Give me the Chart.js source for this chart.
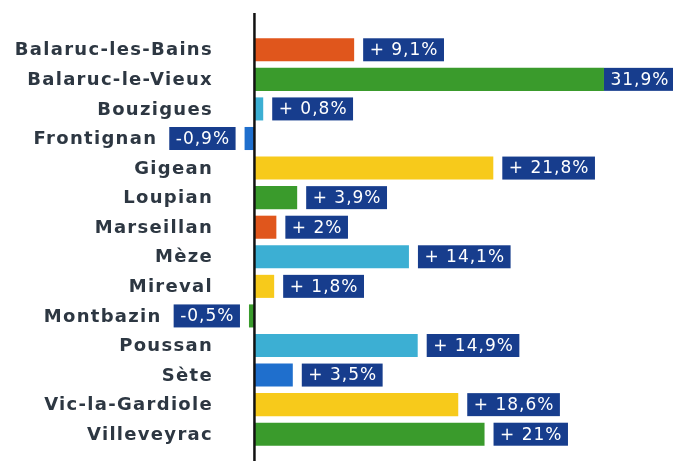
<!DOCTYPE html>
<html><head><meta charset="utf-8">
<script src="https://cdn.jsdelivr.net/npm/chart.js@4"></script>
<style>html,body{margin:0;padding:0;background:#fff}#wrap{width:673px;height:461px;position:relative}</style>
</head><body><div id="wrap"><canvas id="c"></canvas></div>
<script>
const categories = ["Balaruc-les-Bains","Balaruc-le-Vieux","Bouzigues","Frontignan","Gigean","Loupian","Marseillan","Mèze","Mireval","Montbazin","Poussan","Sète","Vic-la-Gardiole","Villeveyrac"];
const values = [9.1, 31.9, 0.8, -0.9, 21.8, 3.9, 2, 14.1, 1.8, -0.5, 14.9, 3.5, 18.6, 21];
const valueLabels = ["+ 9,1%","31,9%","+ 0,8%","-0,9%","+ 21,8%","+ 3,9%","+ 2%","+ 14,1%","+ 1,8%","-0,5%","+ 14,9%","+ 3,5%","+ 18,6%","+ 21%"];
const ORANGE="#e0561c", GREEN="#3a9b2c", LBLUE="#3cafd3", BLUE="#1f6fcd", YELLOW="#f7ca1b";
const barColors = [ORANGE,GREEN,LBLUE,BLUE,YELLOW,GREEN,ORANGE,LBLUE,YELLOW,GREEN,LBLUE,BLUE,YELLOW,GREEN];

const boxPlugin = {
  id:'boxes',
  afterDatasetsDraw(chart){
    const ctx = chart.ctx;
    const meta = chart.getDatasetMeta(0);
    const xs = chart.scales.x, ys = chart.scales.y;
    const zero = xs.getPixelForValue(0);
    ctx.save();
    // zero axis line
    ctx.strokeStyle = "#111";
    ctx.lineWidth = 2.5;
    ctx.beginPath();
    ctx.moveTo(zero, chart.chartArea.top - 22);
    ctx.lineTo(zero, chart.height);
    ctx.stroke();
    ctx.textBaseline = "middle";
    meta.data.forEach((el, i) => {
      const txt = valueLabels[i];
      ctx.font = "17px 'DejaVu Sans'";
      ctx.letterSpacing = "1px";
      const w = ctx.measureText(txt).width + 12;
      const h = 23;
      let x;
      if (values[i] >= 0) {
        x = Math.max(el.x, Math.min(el.x + 9, chart.width - w - 2));
      } else {
        x = el.x - 9 - w;
      }
      ctx.fillStyle = "#173d8d";
      ctx.fillRect(x, el.y - h/2, w, h);
      ctx.fillStyle = "#fff";
      ctx.textAlign = "left";
      ctx.fillText(txt, x + 6 + 0.5, el.y + 1);
      // category label
      const labelRight = values[i] >= 0 ? ys.right - 2 : x - 12;
      ctx.font = "bold 18px 'DejaVu Sans'";
      ctx.letterSpacing = "1.3px";
      ctx.fillStyle = "#2d3742";
      ctx.textAlign = "right";
      ctx.fillText(categories[i], labelRight, ys.getPixelForTick(i) + 1);
    });
    ctx.restore();
  }
};

new Chart(document.getElementById('c'), {
  type:'bar',
  data:{labels:categories, datasets:[{data:values, backgroundColor:barColors, borderWidth:0, barPercentage:0.78, categoryPercentage:1}]},
  options:{
    indexAxis:'y', responsive:true, maintainAspectRatio:false, animation:false,
    layout:{padding:{top:35,bottom:12,right:0,left:0}},
    plugins:{legend:{display:false}, tooltip:{enabled:false}},
    scales:{
      x:{display:false, min:-3.6, max:38.2},
      y:{
        grid:{display:false}, border:{display:false},
        afterFit(s){ s.width = 215; },
        ticks:{display:false}
      }
    }
  },
  plugins:[boxPlugin]
});
</script></body></html>
